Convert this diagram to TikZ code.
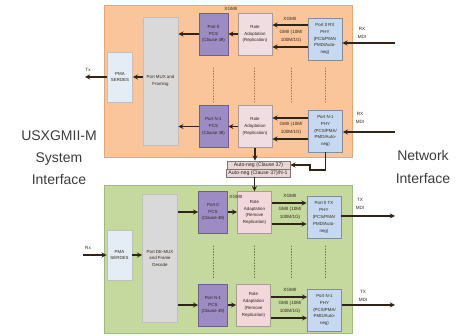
\documentclass[tikz,border=0pt]{standalone}
\usepackage{fontspec}
\setmainfont{Liberation Sans}
\usepackage{tikz}
\usetikzlibrary{positioning,calc}
\definecolor{ink}      {HTML}{2E2418}
\definecolor{rxpanel}  {HTML}{FAC59A}
\definecolor{rxedge}   {HTML}{E3A676}
\definecolor{txpanel}  {HTML}{C5D89E}
\definecolor{txedge}   {HTML}{A3B97C}
\definecolor{muxfill}  {HTML}{D9D9D9}
\definecolor{pmafill}  {HTML}{E4ECF6}
\definecolor{pcsfill}  {HTML}{9D8BC4}
\definecolor{ratefill} {HTML}{EFDDE2}
\definecolor{phyfill}  {HTML}{C6D9F0}
\definecolor{anfill}   {HTML}{E9D6D6}
\definecolor{bigtext}  {HTML}{3C3C3C}
\colorlet{rxdots}{rxedge!70!black}
\colorlet{txdots}{txedge!60!black}
\tikzset{
  >=stealth,
  every node/.style={font=\fontsize{4.4}{6.8}\selectfont},
  % --- nodes
  blk/.style   = {draw, align=center, inner sep=1pt, line width=0.6pt, text=ink},
  pma/.style   = {blk, draw=black!25, fill=pmafill, minimum width=25pt, minimum height=50pt},
  mux/.style   = {blk, draw=black!25, fill=muxfill, minimum width=35pt, minimum height=128pt},
  pcs/.style   = {blk, draw=pcsfill!70!black, fill=pcsfill, minimum width=29pt, minimum height=42pt},
  rate/.style  = {blk, draw=ratefill!70!black, fill=ratefill, minimum width=34pt, minimum height=42pt},
  phy/.style   = {blk, draw=phyfill!65!black, fill=phyfill, minimum width=34pt, minimum height=42pt},
  aneg/.style  = {blk, draw=anfill!55!black, fill=anfill, minimum width=63pt, minimum height=8pt,
                  inner sep=0pt, font=\fontsize{5.2}{6}\selectfont},
  lbl/.style   = {font=\fontsize{4.6}{8}\selectfont, text=ink, align=center, inner sep=0.5pt},
  big/.style   = {font=\fontsize{14}{22}\selectfont, text=bigtext, align=center},
  % --- edges
  e/.style     = {-stealth, line width=1.3pt, draw=ink},
  dotcol/.style= {dotted, line width=0.8pt, line cap=round},
}
\begin{document}
\begin{tikzpicture}[x=1pt,y=-1pt]
  \useasboundingbox (0,0) rectangle (464,336);
  % --- panels
  \draw[fill=rxpanel, draw=rxedge, line width=0.6pt] (104,5) rectangle (352,157);
  \draw[fill=txpanel, draw=txedge, line width=0.6pt] (104,185) rectangle (352,333);
  \foreach \x in {213,254,291,325} {
    \draw[dotcol, draw=rxdots] (\x,68) -- (\x,102);
    \draw[dotcol, draw=txdots] (\x,246) -- (\x,278);
  }

  \node[lbl] (rxTop) at (231,9) {XGMII};
  \node[big] (sysLbl) at (59,158) {USXGMII-M\\System\\Interface};
  \node[big, font=\fontsize{14}{23}\selectfont] (netLbl) at (423,166.5) {Network\\Interface};

  % --- receive side
  \node[pma]  (rxPma)   at (120,77)      {PMA\\SERDES};
  \node[mux]  (rxMux)   at (160.5,81)    {Port MUX and\\Framing};
  \node[pcs]  (rxPcsA)  at (213.5,34)    {Port 0\\PCS\\(Clause 49)};
  \node[rate] (rxRateA) at (255,34)      {Rate\\Adaptation\\(Replication)};
  \node[phy]  (rxPhyA)  at (325,39)      {Port 0 RX\\PHY\\(PCS/PMA/\\PMD/Auto-\\neg)};
  \node[pcs]  (rxPcsB)  at (213.5,126.5) {Port N-1\\PCS\\(Clause 49)};
  \node[rate] (rxRateB) at (255,126.5)   {Rate\\Adaptation\\(Replication)};
  \node[phy]  (rxPhyB)  at (325.5,131)   {Port N-1\\PHY\\(PCS/PMA/\\PMD/Auto-\\neg)};

  \node[aneg] (anA) at (258.5,165) {Auto-neg (Clause 37)};
  \node[aneg, minimum width=64pt] (anB) at (258,173) {Auto-neg (Clause 37)/N-1};

  % --- transmit side
  \node[pma]  (txPma)   at (119.5,255)   {PMA\\SERDES};
  \node[mux]  (txMux)   at (160,258.5)   {Port DE-MUX\\and Frame\\Decode};
  \node[pcs]  (txPcsA)  at (213,212)     {Port 0\\PCS\\(Clause 49)};
  \node[rate, fill=ratefill!80!pink] (txRateA) at (254.5,212.5) {Rate\\Adaptation\\(Remove\\Replication)};
  \node[phy]  (txPhyA)  at (324,217.5)   {Port 0 TX\\PHY\\(PCS/PMA/\\PMD/Auto-\\neg)};
  \node[pcs]  (txPcsB)  at (213,305)     {Port N-1\\PCS\\(Clause 49)};
  \node[rate, fill=ratefill!80!pink] (txRateB) at (253.5,305) {Rate\\Adaptation\\(Remove\\Replication)};
  \node[phy]  (txPhyB)  at (324.5,310)   {Port N-1\\PHY\\(PCS/PMA/\\PMD/Auto-\\neg)};

  % --- free ends
  \coordinate (sysTx)  at (85,77);
  \coordinate (sysRx)  at (83,255);
  \coordinate (mdiRxA) at (395,43);
  \coordinate (mdiRxB) at (395,132);
  \coordinate (mdiTxA) at (395,216);
  \coordinate (mdiTxB) at (395,305);

  % --- labels
  \node[lbl] (txLbl)   at (88,70)    {Tx};
  \node[lbl] (rxLbl)   at (88,248)   {Rx};
  \node[lbl] (rxXgA)   at (290,19)   {XGMII};
  \node[lbl] (rxGmA)   at (291,36)   {GMII (10M/\\100M/1G)};
  \node[lbl] (rxMdiA)  at (362,32.5) {RX\\MDI};
  \node[lbl] (rxGmB)   at (291,128.5){GMII (10M/\\100M/1G)};
  \node[lbl] (rxMdiB)  at (360,117.5){RX\\MDI};
  \node[lbl] (txXgP)   at (236,197)  {XGMII};
  \node[lbl] (txXgA)   at (290,196)  {XGMII};
  \node[lbl] (txGmA)   at (290,213)  {GMII (10M/\\100M/1G)};
  \node[lbl] (txMdiA)  at (360,204)  {TX\\MDI};
  \node[lbl] (txXgB)   at (290,290)  {XGMII};
  \node[lbl] (txGmB)   at (290,307.5){GMII (10M/\\100M/1G)};
  \node[lbl] (txMdiB)  at (363,296)  {TX\\MDI};

  % --- receive edges
  \draw[e] (rxPma.west) -- (sysTx);
  \draw[e] (rxMux.west |- rxPma) -- (rxPma.east);
  \draw[e] (rxPcsA.west) -- (rxPcsA.west -| rxMux.east);
  \draw[e] (rxRateA.west) -- (rxPcsA.east);
  \draw[e] (rxPhyA.west |- 0,25) -- (rxRateA.east |- 0,25);
  \draw[e] (rxPhyA.west |- 0,47) -- (rxRateA.east |- 0,47);
  \draw[e] (mdiRxA) -- (mdiRxA -| rxPhyA.east);
  \draw[e] (rxPcsB.west) -- (rxPcsB.west -| rxMux.east);
  \draw[e] (rxRateB.west) -- (rxPcsB.east);
  \draw[e] (rxPhyB.west |- 0,118) -- (rxRateB.east |- 0,118);
  \draw[e] (rxPhyB.west |- 0,139) -- (rxRateB.east |- 0,139);
  \draw[e] (mdiRxB) -- (mdiRxB -| rxPhyB.east);

  % --- auto-negotiation
  \draw[e] (rxRateB.south) -- (rxRateB.south |- anA.north);
  \draw[e] (rxPhyB.south) |- (310,170) |- (anA.east);
  \draw[e] (anB.south -| txRateA.north) -- (txRateA.north);

  % --- transmit edges
  \draw[e] (sysRx) -- (txPma.west);
  \draw[e] (txPma.east) -- (txPma.east -| txMux.west);
  \draw[e] (txMux.east |- txPcsA) -- (txPcsA.west);
  \draw[e] (txPcsA.east) -- (txPcsA.east -| txRateA.west);
  \draw[e] (txRateA.east |- 0,203) -- (txPhyA.west |- 0,203);
  \draw[e] (txRateA.east |- 0,224) -- (txPhyA.west |- 0,224);
  \draw[e] (txPhyA.east |- mdiTxA) -- (mdiTxA);
  \draw[e] (txMux.east |- txPcsB) -- (txPcsB.west);
  \draw[e] (txPcsB.east) -- (txPcsB.east -| txRateB.west);
  \draw[e] (txRateB.east |- 0,297) -- (txPhyB.west |- 0,297);
  \draw[e] (txRateB.east |- 0,318) -- (txPhyB.west |- 0,318);
  \draw[e] (txPhyB.east |- mdiTxB) -- (mdiTxB);
\end{tikzpicture}
\end{document}
